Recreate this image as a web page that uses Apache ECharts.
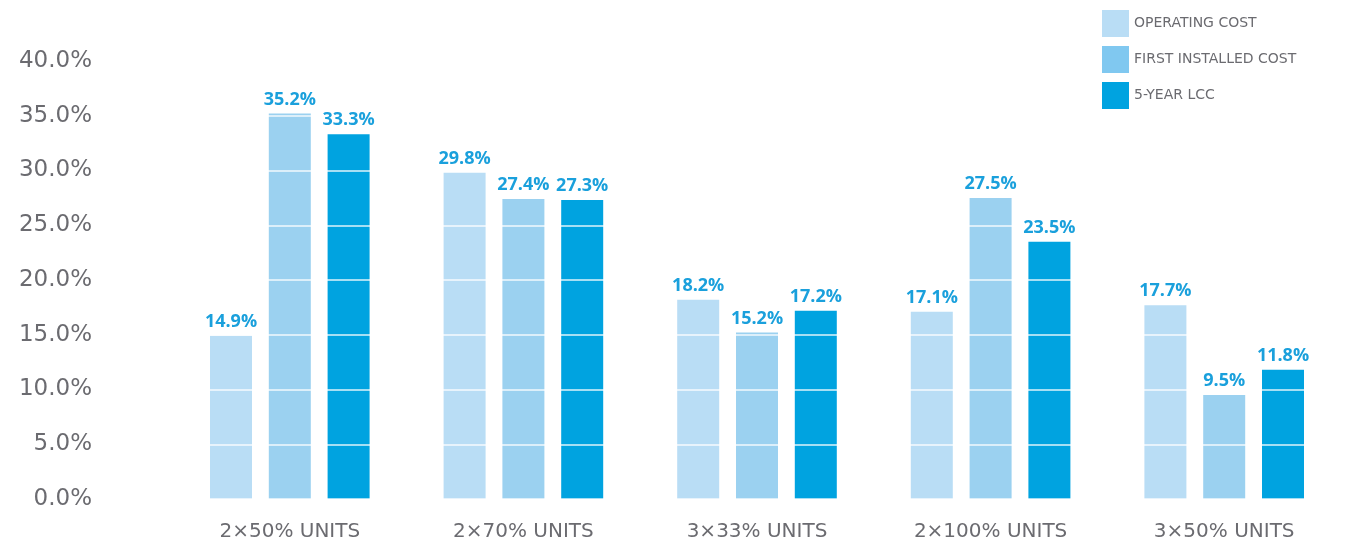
<!DOCTYPE html>
<html>
<head>
<meta charset="utf-8">
<title>LCC comparison</title>
<script src="https://cdn.jsdelivr.net/npm/echarts@6/dist/echarts.min.js"></script>
<style>
  html, body { margin: 0; padding: 0; background: #fff; }
  #chart { width: 1347px; height: 550px; }
</style>
</head>
<body>
<div id="chart"></div>
<script>
/* 分类 */
var categories = ['2×50% UNITS', '2×70% UNITS', '3×33% UNITS', '2×100% UNITS', '3×50% UNITS'];

/* 各系列数值(%) */
var operatingCost = [14.9, 29.8, 18.2, 17.1, 17.7];
var firstInstalledCost = [35.2, 27.4, 15.2, 27.5, 9.5];
var fiveYearLcc = [33.3, 27.3, 17.2, 23.5, 11.8];

var seriesNames = ['OPERATING COST', 'FIRST INSTALLED COST', '5-YEAR LCC'];
var colors = ['#b9ddf5', '#9bd1f0', '#00a3e0'];
var legendColors = ['#b9ddf5', '#80c8f0', '#00a3e0'];

/* 柱子本身(在网格线下面) */
function makeBar(name, data, color) {
    return {
        name: name,
        type: 'bar',
        z: 1,
        data: data,
        barWidth: 42,
        barGap: '40%',
        itemStyle: { color: color }
    };
}

/* 透明柱子, 只用来放数值标签(在网格线上面) */
function makeLabel(name, data) {
    return {
        name: name + '_label',
        type: 'bar',
        xAxisIndex: 1,
        z: 5,
        silent: true,
        data: data,
        barWidth: 42,
        barGap: '40%',
        itemStyle: { color: 'rgba(0,0,0,0)' },
        label: {
            show: true,
            position: 'top',
            distance: 5,
            formatter: function (p) { return p.value.toFixed(1) + '%'; },
            color: '#1aa0dc',
            fontFamily: 'Open Sans',
            fontWeight: 'bold',
            fontSize: 18
        }
    };
}

var chart = echarts.init(document.getElementById('chart'));
var option = {
    backgroundColor: '#fff',
    animation: false,
    grid: {
        left: 173,
        right: 6,
        top: 61,
        bottom: 51
    },
    legend: {
        orient: 'vertical',
        left: 1097,
        top: 5,
        z: 6,
        itemWidth: 27,
        itemHeight: 27,
        itemGap: 9,
        icon: 'rect',
        textStyle: {
            color: '#6b6b70',
            fontFamily: 'DejaVu Sans',
            fontSize: 14,
            padding: [6, 0, 0, 0]
        },
        data: seriesNames.map(function (n, i) {
            return { name: n, itemStyle: { color: legendColors[i] } };
        })
    },
    xAxis: [{
        type: 'category',
        data: categories,
        axisLine: { show: false },
        axisTick: { show: false },
        axisLabel: {
            color: '#6b6b70',
            fontFamily: 'DejaVu Sans',
            fontSize: 20,
            margin: 23
        }
    }, {
        type: 'category',
        data: categories,
        show: false
    }],
    yAxis: {
        type: 'value',
        min: 0,
        max: 40,
        interval: 5,
        z: 2,
        axisLine: { show: false },
        axisTick: { show: false },
        splitLine: { lineStyle: { color: 'rgba(255,255,255,0.65)', width: 2 } },
        axisLabel: {
            color: '#6b6b70',
            fontFamily: 'DejaVu Sans',
            fontSize: 23,
            margin: 81,
            formatter: function (v) { return v.toFixed(1) + '%'; }
        }
    },
    series: [
        makeBar(seriesNames[0], operatingCost, colors[0]),
        makeBar(seriesNames[1], firstInstalledCost, colors[1]),
        makeBar(seriesNames[2], fiveYearLcc, colors[2]),
        makeLabel(seriesNames[0], operatingCost),
        makeLabel(seriesNames[1], firstInstalledCost),
        makeLabel(seriesNames[2], fiveYearLcc)
    ]
};
chart.setOption(option, true);
</script>
</body>
</html>
